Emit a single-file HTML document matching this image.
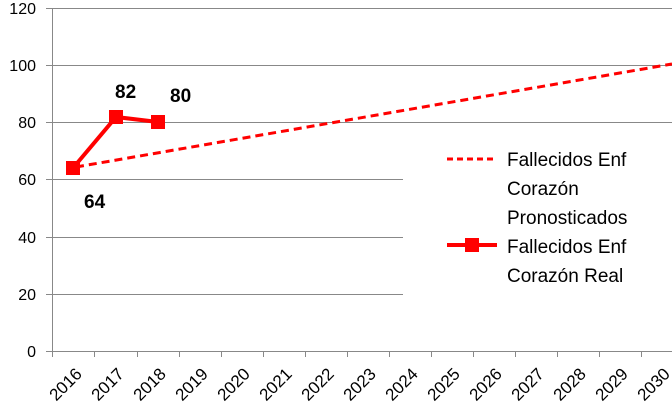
<!DOCTYPE html><html><head><style>body{margin:0;background:#fff}svg{display:block}</style></head><body>
<svg width="672" height="414" xmlns="http://www.w3.org/2000/svg" font-family="Liberation Sans, sans-serif">
<g stroke="#888" stroke-width="1">
<line x1="46" y1="8.5" x2="672" y2="8.5"/>
<line x1="46" y1="65.5" x2="672" y2="65.5"/>
<line x1="46" y1="122.5" x2="672" y2="122.5"/>
<line x1="46" y1="179.5" x2="403" y2="179.5"/>
<line x1="46" y1="237.5" x2="403" y2="237.5"/>
<line x1="46" y1="294.5" x2="403" y2="294.5"/>
<line x1="52.5" y1="8" x2="52.5" y2="351"/>
<line x1="46" y1="351.5" x2="672" y2="351.5"/>
</g>
<g stroke="#888">
<line x1="52.5" y1="351" x2="52.5" y2="357"/><line x1="94.5" y1="351" x2="94.5" y2="357"/><line x1="137.5" y1="351" x2="137.5" y2="357"/><line x1="179.5" y1="351" x2="179.5" y2="357"/><line x1="221.5" y1="351" x2="221.5" y2="357"/><line x1="263.5" y1="351" x2="263.5" y2="357"/><line x1="305.5" y1="351" x2="305.5" y2="357"/><line x1="347.5" y1="351" x2="347.5" y2="357"/><line x1="389.5" y1="351" x2="389.5" y2="357"/><line x1="431.5" y1="351" x2="431.5" y2="357"/><line x1="473.5" y1="351" x2="473.5" y2="357"/><line x1="515.5" y1="351" x2="515.5" y2="357"/><line x1="557.5" y1="351" x2="557.5" y2="357"/><line x1="599.5" y1="351" x2="599.5" y2="357"/><line x1="641.5" y1="351" x2="641.5" y2="357"/>
</g>
<g font-size="16" text-anchor="end" fill="#000">
<text x="36" y="14">120</text><text x="36" y="71">100</text><text x="36" y="128">80</text><text x="36" y="185">60</text><text x="36" y="243">40</text><text x="36" y="300">20</text><text x="36" y="357">0</text>
</g>
<g font-size="17" text-anchor="end" fill="#000">
<text transform="translate(83,375) rotate(-45)">2016</text>
<text transform="translate(125,375) rotate(-45)">2017</text>
<text transform="translate(167,375) rotate(-45)">2018</text>
<text transform="translate(209,375) rotate(-45)">2019</text>
<text transform="translate(251,375) rotate(-45)">2020</text>
<text transform="translate(293,375) rotate(-45)">2021</text>
<text transform="translate(335,375) rotate(-45)">2022</text>
<text transform="translate(377,375) rotate(-45)">2023</text>
<text transform="translate(419,375) rotate(-45)">2024</text>
<text transform="translate(461,375) rotate(-45)">2025</text>
<text transform="translate(503,375) rotate(-45)">2026</text>
<text transform="translate(545,375) rotate(-45)">2027</text>
<text transform="translate(587,375) rotate(-45)">2028</text>
<text transform="translate(629,375) rotate(-45)">2029</text>
<text transform="translate(671,375) rotate(-45)">2030</text>
</g>
<line x1="76" y1="167" x2="672" y2="64" stroke="#f00" stroke-width="3" stroke-dasharray="8,5"/>
<polyline points="73,168 116,117 158,122" fill="none" stroke="#f00" stroke-width="4"/>
<g fill="#f00"><rect x="66" y="161" width="14" height="14"/><rect x="109" y="110" width="14" height="14"/><rect x="151" y="115" width="14" height="14"/></g>
<g font-size="19" font-weight="bold" fill="#000">
<text x="84" y="208">64</text><text x="115" y="98">82</text><text x="170" y="102">80</text>
</g>
<line x1="447" y1="159" x2="497" y2="159" stroke="#f00" stroke-width="3" stroke-dasharray="6,4"/>
<line x1="447" y1="245" x2="497" y2="245" stroke="#f00" stroke-width="4"/>
<rect x="465" y="238" width="14" height="14" fill="#f00"/>
<g font-size="19" fill="#000">
<text x="507" y="166">Fallecidos Enf</text><text x="507" y="195">Corazón</text><text x="507" y="224">Pronosticados</text>
<text x="507" y="253">Fallecidos Enf</text><text x="507" y="282">Corazón Real</text>
</g>
</svg></body></html>
